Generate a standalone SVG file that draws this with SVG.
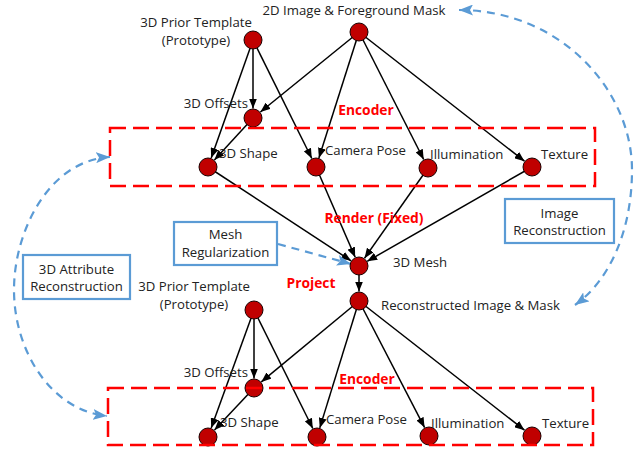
<svg xmlns="http://www.w3.org/2000/svg" width="640" height="451" viewBox="0 0 640 451">
  <style>
    .lbl { font-family: "Open Sans", "Liberation Sans", sans-serif; font-size: 13.2px; fill: #222; }
    .red { font-family: "Open Sans", "Liberation Sans", sans-serif; font-size: 13.8px; font-weight: bold; fill: #FF0000; }
    .node { fill: #C00000; stroke: #1a0000; stroke-width: 1; }
    .edge { stroke: #000; stroke-width: 1.5; fill: none; marker-end: url(#arrow); }
    .group { fill: none; stroke: #FF0000; stroke-width: 2.5; stroke-dasharray: 16 7; }
    .box { fill: #fff; stroke: #5B9BD5; stroke-width: 2.2; }
    .loop { fill: none; stroke: #5B9BD5; stroke-width: 2.2; stroke-dasharray: 8 6; }
  </style>
  <defs>
    <marker id="arrow" markerUnits="userSpaceOnUse" markerWidth="10" markerHeight="8" refX="10" refY="4" orient="auto">
      <path d="M0,0 L10,4 L0,8 z" fill="#000"/>
    </marker>
    <marker id="barrow" markerUnits="userSpaceOnUse" markerWidth="14" markerHeight="11" refX="14" refY="5.5" orient="auto-start-reverse">
      <path d="M0,0 L14,5.5 L0,11 L3,5.5 z" fill="#5B9BD5"/>
    </marker>
  </defs>

  <rect width="640" height="451" fill="#fff"/>

  <!-- connectors -->
  <g id="connectors">
    <line class="edge" x1="253" y1="40" x2="253" y2="108.5"/>
    <line class="edge" x1="253" y1="40" x2="211.2" y2="158"/>
    <line class="edge" x1="253" y1="40" x2="311.8" y2="158.5"/>
    <line class="edge" x1="359" y1="32" x2="260.4" y2="112"/>
    <line class="edge" x1="359" y1="32" x2="318.9" y2="157.9"/>
    <line class="edge" x1="359" y1="32" x2="423.7" y2="159.5"/>
    <line class="edge" x1="359" y1="32" x2="524.5" y2="161.2"/>
    <line class="edge" x1="253" y1="118" x2="214.4" y2="160"/>
    <line class="edge" x1="208" y1="167" x2="351.1" y2="260.8"/>
    <line class="edge" x1="316" y1="167" x2="355.2" y2="257.3"/>
    <line class="edge" x1="428" y1="168" x2="364.5" y2="258.2"/>
    <line class="edge" x1="532" y1="167" x2="367.2" y2="261.3"/>
    <line class="edge" x1="359" y1="266" x2="359" y2="291.5"/>
    <line class="edge" x1="254" y1="310" x2="254" y2="378.5"/>
    <line class="edge" x1="254" y1="310" x2="211.2" y2="428.1"/>
    <line class="edge" x1="254" y1="310" x2="312.8" y2="428.5"/>
    <line class="edge" x1="359" y1="301" x2="261.3" y2="381.9"/>
    <line class="edge" x1="359" y1="301" x2="319.8" y2="427.9"/>
    <line class="edge" x1="359" y1="301" x2="424.6" y2="427.6"/>
    <line class="edge" x1="359" y1="301" x2="524.5" y2="430.2"/>
    <line class="edge" x1="254" y1="388" x2="214.5" y2="430.1"/>

    <!-- reconstruction loops -->
    <path class="loop" d="M459,10 C560,10 632,90 632,170 C632,230 610,280 575,305" marker-start="url(#barrow)" marker-end="url(#barrow)"/>
    <path class="loop" d="M110,157 C50,160 14,230 14,290 C14,350 50,410 107,416" marker-start="url(#barrow)" marker-end="url(#barrow)"/>
    <line class="loop" x1="278" y1="244" x2="351" y2="264" marker-end="url(#barrow)"/>
  </g>

  <!-- upper branch -->
  <g id="prior-top"><circle class="node" cx="253" cy="40" r="9"/>
    <text class="lbl" x="196" y="27" text-anchor="middle">3D Prior Template</text>
    <text class="lbl" x="196" y="45" text-anchor="middle">(Prototype)</text></g>
  <g id="image-input"><circle class="node" cx="359" cy="32" r="9"/>
    <text class="lbl" x="354" y="15" text-anchor="middle">2D Image &amp; Foreground Mask</text></g>
  <g id="offsets-top"><circle class="node" cx="253" cy="118" r="9"/>
    <text class="lbl" x="248" y="108" text-anchor="end">3D Offsets</text></g>
  <g id="shape-top"><circle class="node" cx="208" cy="167" r="9"/>
    <text class="lbl" x="219" y="158">3D Shape</text></g>
  <g id="camera-top"><circle class="node" cx="316" cy="167" r="9"/>
    <text class="lbl" x="325" y="155">Camera Pose</text></g>
  <g id="illum-top"><circle class="node" cx="428" cy="168" r="9"/>
    <text class="lbl" x="430" y="159">Illumination</text></g>
  <g id="texture-top"><circle class="node" cx="532" cy="167" r="9"/>
    <text class="lbl" x="541" y="159">Texture</text></g>

  <!-- mesh and render -->
  <g id="mesh"><circle class="node" cx="359" cy="266" r="9"/>
    <text class="lbl" x="393" y="267">3D Mesh</text></g>
  <g id="recon"><circle class="node" cx="359" cy="301" r="9"/>
    <text class="lbl" x="381" y="310">Reconstructed Image &amp; Mask</text></g>

  <!-- lower branch -->
  <g id="prior-bottom"><circle class="node" cx="254" cy="310" r="9"/>
    <text class="lbl" x="194" y="291" text-anchor="middle">3D Prior Template</text>
    <text class="lbl" x="194" y="309" text-anchor="middle">(Prototype)</text></g>
  <g id="offsets-bottom"><circle class="node" cx="254" cy="388" r="9"/>
    <text class="lbl" x="248" y="377" text-anchor="end">3D Offsets</text></g>
  <g id="shape-bottom"><circle class="node" cx="208" cy="437" r="9"/>
    <text class="lbl" x="220" y="427">3D Shape</text></g>
  <g id="camera-bottom"><circle class="node" cx="317" cy="437" r="9"/>
    <text class="lbl" x="326" y="424">Camera Pose</text></g>
  <g id="illum-bottom"><circle class="node" cx="429" cy="436" r="9"/>
    <text class="lbl" x="431" y="428">Illumination</text></g>
  <g id="texture-bottom"><circle class="node" cx="532" cy="436" r="9"/>
    <text class="lbl" x="542" y="428">Texture</text></g>

  <!-- encoder groups -->
  <g id="encoder-top">
    <rect class="group" x="110" y="128" width="485" height="58"/>
    <text class="red" x="366" y="115" text-anchor="middle">Encoder</text></g>
  <g id="encoder-bottom">
    <rect class="group" x="108" y="388" width="485" height="57"/>
    <text class="red" x="367" y="384" text-anchor="middle">Encoder</text></g>

  <text class="red" x="374" y="223" text-anchor="middle">Render (Fixed)</text>
  <text class="red" x="311" y="288" text-anchor="middle">Project</text>

  <!-- loss boxes -->
  <g id="mesh-reg">
    <rect class="box" x="174" y="222" width="103" height="43"/>
    <text class="lbl" x="225.5" y="239" text-anchor="middle">Mesh</text>
    <text class="lbl" x="225.5" y="257" text-anchor="middle">Regularization</text></g>
  <g id="image-rec">
    <rect class="box" x="505" y="199" width="109" height="44"/>
    <text class="lbl" x="559.5" y="218" text-anchor="middle">Image</text>
    <text class="lbl" x="559.5" y="235" text-anchor="middle">Reconstruction</text></g>
  <g id="attr-rec">
    <rect class="box" x="23" y="255" width="107" height="44"/>
    <text class="lbl" x="76.5" y="274" text-anchor="middle">3D Attribute</text>
    <text class="lbl" x="76.5" y="291" text-anchor="middle">Reconstruction</text></g>
</svg>
